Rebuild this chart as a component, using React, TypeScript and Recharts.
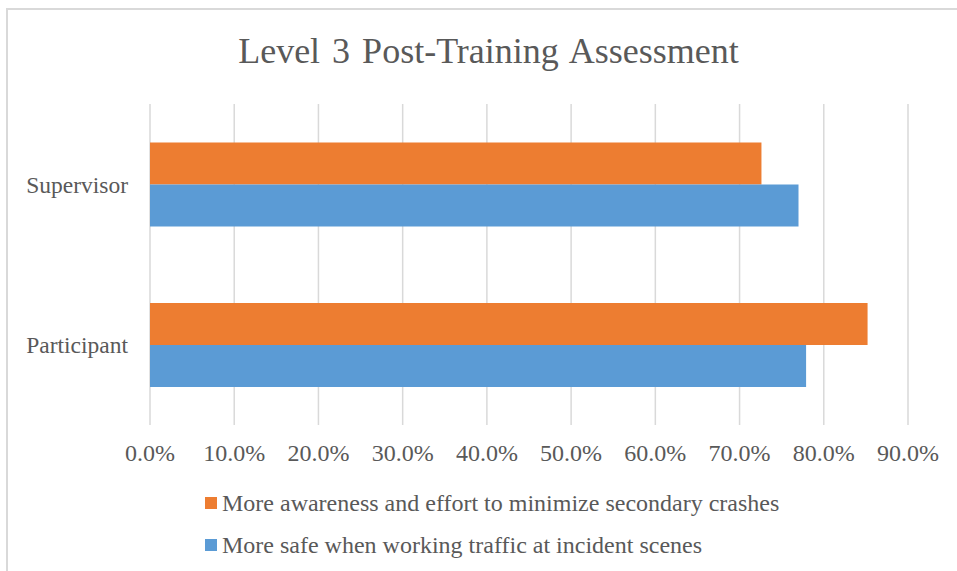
import React from 'react';
import { BarChart, Bar, XAxis, YAxis, CartesianGrid, Legend } from 'recharts';

const categories = ['Supervisor', 'Participant'];
const awarenessValues = [0.726, 0.852];
const saferValues = [0.77, 0.779];
const seriesNames = [
  'More awareness and effort to minimize secondary crashes',
  'More safe when working traffic at incident scenes',
];
const xTicks = [0, 0.1, 0.2, 0.3, 0.4, 0.5, 0.6, 0.7, 0.8, 0.9];

const data = categories.map((name, i) => ({
  name,
  awareness: awarenessValues[i],
  safer: saferValues[i],
}));

const FONT = '"Liberation Serif", "Times New Roman", serif';
const TEXT = '#595959';

const LegendBox = (props: any) => {
  const { payload } = props;
  return (
    <div style={{ fontFamily: FONT, fontSize: 24, color: TEXT }}>
      {(payload || []).map((p: any) => (
        <div key={p.value} style={{ display: 'flex', alignItems: 'center', height: 42, whiteSpace: 'nowrap' }}>
          <span style={{ width: 12, height: 12, background: p.color, display: 'inline-block', marginRight: 5 }} />
          <span>{p.value}</span>
        </div>
      ))}
    </div>
  );
};

const App: React.FC = () => {
  return (
    <div style={{ position: 'absolute', left: 0, top: 0, width: 957, height: 571, background: '#fff' }}>
      {/* frame edges, only top and left visible in the source */}
      <div style={{ position: 'absolute', left: 6, top: 8, width: 951, height: 2, background: '#d9d9d9' }} />
      <div style={{ position: 'absolute', left: 6, top: 8, width: 2, height: 563, background: '#d9d9d9' }} />
      <div
        style={{
          position: 'absolute',
          top: 30,
          left: 0,
          width: 977,
          textAlign: 'center',
          fontFamily: FONT,
          fontSize: 36,
          lineHeight: '42px',
          color: TEXT,
          wordSpacing: 3,
        }}
      >
        Level 3 Post-Training Assessment
      </div>
      <BarChart
        width={957}
        height={571}
        data={data}
        layout="vertical"
        margin={{ top: 104, right: 49, left: 0, bottom: 116 }}
        barCategoryGap="24%"
        barGap={0}
      >
        <CartesianGrid horizontal={false} stroke="#d9d9d9" strokeWidth={1.5} />
        <XAxis
          type="number"
          domain={[0, 0.9]}
          ticks={xTicks}
          tickFormatter={(v: number) => (v * 100).toFixed(1) + '%'}
          axisLine={false}
          tickLine={false}
          tickSize={0}
          tickMargin={19}
          height={30}
          interval={0}
          tick={{ fill: TEXT, fontSize: 24, fontFamily: FONT }}
        />
        <YAxis
          type="category"
          dataKey="name"
          width={150}
          axisLine={false}
          tickLine={false}
          tickSize={0}
          tickMargin={22}
          tick={{ fill: TEXT, fontSize: 23.5, fontFamily: FONT }}
        />
        <Bar dataKey="awareness" name={seriesNames[0]} fill="#ED7D31" isAnimationActive={false} />
        <Bar dataKey="safer" name={seriesNames[1]} fill="#5B9BD5" isAnimationActive={false} />
        <Legend
          layout="horizontal"
          verticalAlign="middle"
          align="center"
          content={<LegendBox />}
          wrapperStyle={{ top: 482, left: 205, width: 720, height: 90 }}
        />
      </BarChart>
    </div>
  );
};

export default App;
